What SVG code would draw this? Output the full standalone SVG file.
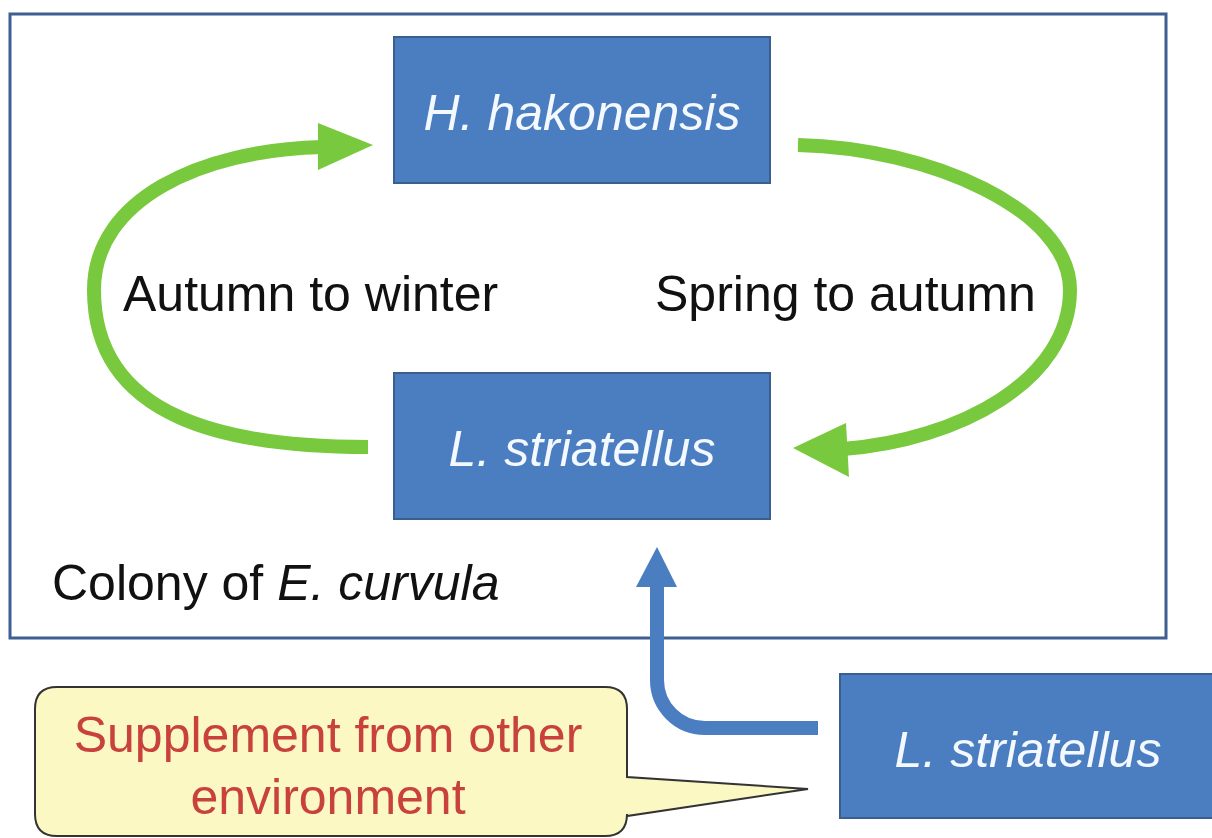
<svg xmlns="http://www.w3.org/2000/svg" width="1212" height="838" viewBox="0 0 1212 838">
<style>
.box{fill:#4a7ec0;stroke:#3a5f8e;stroke-width:2}
.bt{font-family:"Liberation Sans",Arial,sans-serif;font-style:italic;font-size:50px;fill:#f4f8ff;text-anchor:middle}
.lbl{font-family:"Liberation Sans",Arial,sans-serif;font-size:50px;fill:#111}
.green{fill:none;stroke:#78c93d;stroke-width:14}
.gh{fill:#78c93d}
.blue{fill:none;stroke:#4a7ec0;stroke-width:14}
.red{font-family:"Liberation Sans",Arial,sans-serif;font-size:50px;fill:#c8413c;text-anchor:middle}
</style>
<rect width="1212" height="838" fill="#ffffff"/>
<g id="frame">
<rect x="10" y="14" width="1156" height="624" fill="#ffffff" stroke="#3f5f92" stroke-width="3"/>
<text class="lbl" x="52" y="600">Colony of <tspan font-style="italic">E. curvula</tspan></text>
</g>
<g id="connectors">
<path class="green" d="M368 447 C230 447 94 420 94 290 C94 200 200 150 322 147"/>
<polygon class="gh" points="318,123 373,145 318,170"/>
<path class="green" d="M798 145 C930 148 1070 210 1070 290 C1070 380 960 440 843 449"/>
<polygon class="gh" points="846,423 793,448 849,477"/>
<path class="blue" d="M818 728 L705 728 A48 48 0 0 1 657 680 L657 582"/>
<polygon fill="#4a7ec0" points="636,587 657,547 677,587"/>
</g>
<g id="n-hakonensis">
<rect class="box" x="394" y="37" width="376" height="146"/>
<text class="bt" x="582" y="130">H. hakonensis</text>
</g>
<g id="n-striatellus">
<rect class="box" x="394" y="373" width="376" height="146"/>
<text class="bt" x="582" y="466">L. striatellus</text>
</g>
<g id="l-autumn">
<text class="lbl" x="123" y="311">Autumn to winter</text>
</g>
<g id="l-spring">
<text class="lbl" x="655" y="311">Spring to autumn</text>
</g>
<g id="n-striatellus-ext">
<rect class="box" x="840" y="674" width="380" height="144"/>
<text class="bt" x="1028" y="767">L. striatellus</text>
</g>
<g id="callout">
<path d="M57 687 L605 687 Q627 687 627 709 L627 777 L808 789 L627 816 L627 814 Q627 836 605 836 L57 836 Q35 836 35 814 L35 709 Q35 687 57 687 Z" fill="#fbf8c4" stroke="#333" stroke-width="2"/>
<text class="red" x="328" y="752">Supplement from other</text>
<text class="red" x="328" y="814">environment</text>
</g>
</svg>
